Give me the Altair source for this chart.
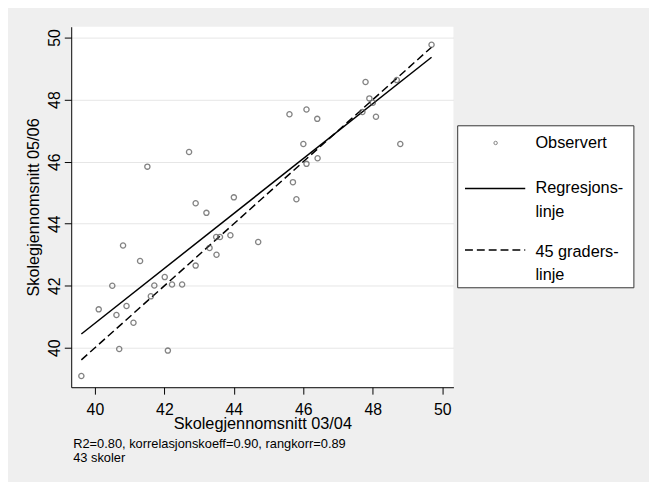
import altair as alt
import pandas as pd

# ---- data ----
skole_0304 = [41.51, 42.71, 44.00, 49.69, 47.79, 48.69, 47.90, 48.00, 47.70, 48.09,
              45.60, 46.09, 46.40, 46.00, 48.79, 46.41, 46.09, 45.70, 45.80, 42.90,
              43.21, 43.49, 43.60, 43.90, 44.70, 43.30, 43.50, 42.90, 40.81, 41.30,
              40.50, 41.71, 42.01, 42.22, 42.51, 41.61, 40.11, 40.91, 40.62, 41.11,
              40.70, 42.10, 39.61]
skole_0506 = [45.84, 46.31, 44.85, 49.77, 48.57, 48.63, 48.04, 47.90, 47.60, 47.45,
              47.53, 47.68, 47.38, 46.57, 46.57, 46.11, 45.93, 45.34, 44.79, 44.66,
              44.35, 43.57, 43.57, 43.63, 43.41, 43.22, 43.00, 42.65, 43.30, 42.80,
              42.00, 42.01, 42.28, 42.04, 42.04, 41.66, 41.24, 41.35, 41.06, 40.81,
              39.96, 39.91, 39.09]
tick_values = [40, 42, 44, 46, 48, 50]
x_title = "Skolegjennomsnitt 03/04"
y_title = "Skolegjennomsnitt 05/06"
legend_labels = ["Observert", "Regresjons-", "linje", "45 graders-", "linje"]
note_lines = ["R2=0.80, korrelasjonskoeff=0.90, rangkorr=0.89", "43 skoler"]

FONT = "Liberation Sans"

df = pd.DataFrame({"x": skole_0304, "y": skole_0506})
diag = pd.DataFrame({"x": [min(skole_0304), max(skole_0304)],
                     "y": [min(skole_0304), max(skole_0304)]})

W, H = 387, 365

xs = alt.Scale(domain=[39.318, 50.32], nice=False, zero=False)
ys = alt.Scale(domain=[38.73, 50.35], nice=False, zero=False)

xaxis = alt.Axis(values=tick_values, title=x_title, grid=False,
                 domainColor="black", tickColor="black", tickSize=7,
                 labelFont=FONT, labelFontSize=16, labelColor="black",
                 labelBaseline="alphabetic", labelPadding=20.5,
                 labelFlush=False, labelOverlap=False,
                 titleFont=FONT, titleFontSize=16.5, titleFontWeight="normal",
                 titleColor="black", titleBaseline="alphabetic",
                 titleAlign="center", titleX=W / 2, titleY=41.5)
yaxis = alt.Axis(values=tick_values, title=y_title, grid=True,
                 gridColor="#e6e6e6", gridWidth=1,
                 domainColor="black", tickColor="black", tickSize=7,
                 labelFont=FONT, labelFontSize=16, labelColor="black",
                 labelAngle=270, labelAlign="center", labelBaseline="alphabetic",
                 labelPadding=5, labelFlush=False, labelOverlap=False,
                 titleFont=FONT, titleFontSize=16.5, titleFontWeight="normal",
                 titleColor="black", titleAngle=270, titleBaseline="alphabetic",
                 titleAlign="center", titleX=-33.5, titleY=H / 2)

X = alt.X("x:Q", scale=xs, axis=xaxis)
Y = alt.Y("y:Q", scale=ys, axis=yaxis)

base = alt.Chart(df)
points = base.mark_point(shape="circle", filled=False, size=28, strokeWidth=1.3,
                         color="#505050").encode(x=X, y=Y)
reg = base.transform_regression("x", "y").mark_line(
    color="black", strokeWidth=1.5).encode(x=X, y=Y)
diag_line = alt.Chart(diag).mark_line(
    color="black", strokeWidth=1.5, strokeDash=[8, 4]).encode(x=X, y=Y)

one = alt.Data(values=[{"k": 0}])

legend_box = alt.Chart(one).mark_rect(fill="white", stroke="#333333",
                                      strokeWidth=1).encode(
    x=alt.value(391.3), x2=alt.value(569.7), y=alt.value(100.3), y2=alt.value(264.3))
leg_pt = alt.Chart(one).mark_point(shape="circle", filled=False, size=12,
                                   strokeWidth=1, color="#505050").encode(
    x=alt.value(429.7), y=alt.value(117.7))
leg_solid = alt.Chart(one).mark_rule(color="black", strokeWidth=1.5).encode(
    x=alt.value(398.7), x2=alt.value(459.7), y=alt.value(163.7))
leg_dash = alt.Chart(one).mark_rule(color="black", strokeWidth=1.5,
                                    strokeDash=[8, 4]).encode(
    x=alt.value(398.7), x2=alt.value(459.7), y=alt.value(226))

legend_y = [123, 168.8, 192.5, 233, 256.5]
leg_texts = [
    alt.Chart(one).mark_text(align="left", baseline="alphabetic", font=FONT,
                             fontSize=16.5, color="black").encode(
        x=alt.value(470), y=alt.value(yy), text=alt.value(lbl))
    for lbl, yy in zip(legend_labels, legend_y)
]

note_y = [427, 441]
notes = [
    alt.Chart(one).mark_text(align="left", baseline="alphabetic", font=FONT,
                             fontSize=13, color="black").encode(
        x=alt.value(2), y=alt.value(yy), text=alt.value(t))
    for t, yy in zip(note_lines, note_y)
]

chart = alt.layer(diag_line, reg, points, legend_box, leg_pt, leg_solid, leg_dash,
                  *leg_texts, *notes).properties(
    width=W, height=H,
    background="#efefef",
    autosize=alt.AutoSizeParams(type="none"),
    padding={"left": 64, "top": 16, "right": 198, "bottom": 93},
).configure_view(fill="white", strokeWidth=0)

chart.save("out.html", embed_options={"renderer": "svg", "actions": False})
